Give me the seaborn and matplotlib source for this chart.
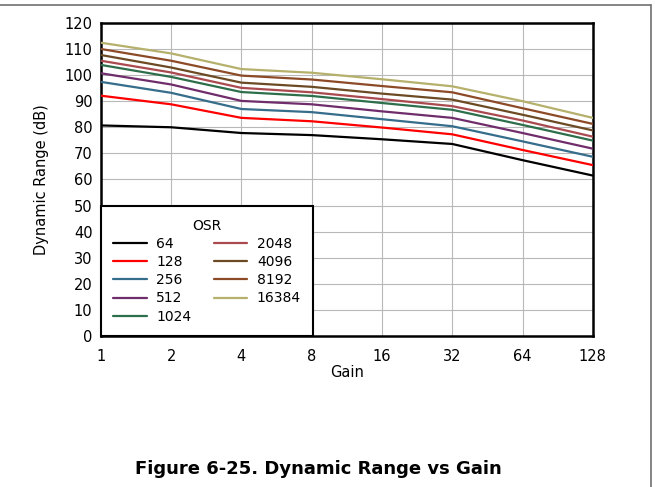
import matplotlib
matplotlib.use("Agg")
import matplotlib.pyplot as plt
from matplotlib.lines import Line2D
import pandas as pd
import seaborn as sns


GAIN = [1, 2, 4, 8, 16, 32, 64, 128]
OSR_LABELS = ["64", "128", "256", "512", "1024", "2048", "4096", "8192", "16384"]

DR_64 = [80.7, 80.0, 77.8, 77.0, 75.4, 73.6, 67.4, 61.5]
DR_128 = [92.1, 88.8, 83.6, 82.3, 79.9, 77.3, 71.3, 65.5]
DR_256 = [97.4, 93.2, 87.0, 85.8, 83.1, 80.4, 74.6, 68.7]
DR_512 = [100.7, 96.4, 90.1, 88.8, 86.1, 83.6, 77.8, 71.8]
DR_1024 = [103.9, 99.3, 93.5, 92.0, 89.3, 86.7, 80.9, 74.9]
DR_2048 = [105.5, 101.0, 95.1, 93.4, 90.8, 88.1, 82.6, 76.4]
DR_4096 = [107.7, 102.9, 97.1, 95.5, 92.9, 90.6, 84.8, 78.8]
DR_8192 = [110.0, 105.5, 99.8, 98.3, 95.8, 93.4, 87.3, 81.3]
DR_16384 = [112.4, 108.3, 102.3, 100.9, 98.4, 95.7, 90.0, 83.6]

COLORS = ["#000000", "#ff0000", "#356d8b", "#6f2d6b", "#2d6e4b",
          "#a94a4f", "#6b4a24", "#8c4a27", "#b5b06b"]


def main() -> None:
    series = [DR_64, DR_128, DR_256, DR_512, DR_1024,
              DR_2048, DR_4096, DR_8192, DR_16384]
    frames = [pd.DataFrame({"Gain": GAIN, "DR": vals, "OSR": osr})
              for osr, vals in zip(OSR_LABELS, series)]
    data = pd.concat(frames, ignore_index=True)

    sns.set_theme(style="white")
    plt.rcParams["font.family"] = ["DejaVu Sans"]
    plt.rcParams["text.color"] = "black"
    plt.rcParams["axes.labelcolor"] = "black"

    fig = plt.figure(figsize=(6.55, 4.87), dpi=100)
    ax = fig.add_axes([0.154, 0.310, 0.751, 0.643])

    sns.lineplot(data=data, x="Gain", y="DR", hue="OSR", hue_order=OSR_LABELS,
                 palette=dict(zip(OSR_LABELS, COLORS)), linewidth=1.6,
                 ax=ax, zorder=3)

    ax.set_xscale("log", base=2)
    ax.set_xlim(1, 128)
    ax.set_xticks(GAIN)
    ax.set_xticklabels([str(g) for g in GAIN])
    ax.minorticks_off()
    ax.set_ylim(0, 120)
    ax.set_yticks(range(0, 121, 10))
    ax.grid(True, color="#b8b8b8", linewidth=0.8)
    ax.set_axisbelow(True)
    ax.tick_params(axis="both", length=0, labelsize=10.5, colors="black")
    ax.tick_params(axis="x", pad=9)
    ax.tick_params(axis="y", pad=6)
    for spine in ax.spines.values():
        spine.set_color("black")
        spine.set_linewidth(1.8)

    ax.set_xlabel("Gain", fontsize=10.5, labelpad=1)
    ax.set_ylabel("Dynamic Range (dB)", fontsize=10.5, labelpad=11)

    leg = ax.legend(title="OSR", ncol=2, loc="lower left", fontsize=10,
                    title_fontsize=10, frameon=True, fancybox=False,
                    borderaxespad=0, borderpad=0.9, labelspacing=0.3,
                    handlelength=2.4, handletextpad=0.7, columnspacing=1.6)
    leg.get_frame().set_edgecolor("black")
    leg.get_frame().set_linewidth(1.5)
    leg.get_frame().set_facecolor("white")
    leg.get_frame().set_alpha(1)
    leg.set_zorder(5)
    for text in leg.get_texts():
        text.set_color("black")
    leg.get_title().set_color("black")

    fig.add_artist(Line2D([0, 0.994], [0.990, 0.990], transform=fig.transFigure,
                          color="#707070", linewidth=1.2))
    fig.add_artist(Line2D([0.994, 0.994], [0, 0.990], transform=fig.transFigure,
                          color="#707070", linewidth=1.2))

    fig.text(0.486, 0.037, "Figure 6-25. Dynamic Range vs Gain", ha="center",
             va="center", fontsize=13, fontweight="bold", color="black")

    fig.savefig("out.png", dpi=100)
    plt.close(fig)


if __name__ == "__main__":
    main()
